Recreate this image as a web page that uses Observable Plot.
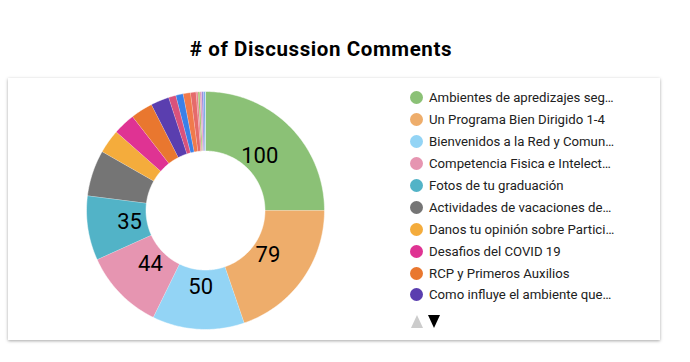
<!DOCTYPE html>
<html>
<head>
<meta charset="utf-8">
<script src="https://cdn.jsdelivr.net/npm/d3@7"></script>
<script src="https://cdn.jsdelivr.net/npm/@observablehq/plot@0.6"></script>
<style>
  html, body { margin: 0; padding: 0; background: #fff; }
  body { width: 690px; height: 362px; position: relative; overflow: hidden; font-family: Roboto, sans-serif; }
  #title { position: absolute; left: 0; width: 642px; top: 37px; text-align: center; font-weight: 700; font-size: 20.5px; color: #000; letter-spacing: 0.6px; }
  #card { position: absolute; left: 8px; top: 78px; width: 652px; height: 262px; background: #fff; box-shadow: 0 1px 3px rgba(0,0,0,0.35); }
  #chart { position: absolute; left: 0; top: 0; }
  #legend { position: absolute; left: 402px; top: 9px; }
  .item { height: 21.9px; display: flex; align-items: center; font-size: 13.2px; color: #212121; white-space: nowrap; }
  .dot { width: 13px; height: 13px; border-radius: 50%; margin-right: 6px; flex: none; }
  #arrows { position: absolute; left: 403px; top: 237px; display: flex; }
  .up { width: 0; height: 0; border-left: 6.5px solid transparent; border-right: 6.5px solid transparent; border-bottom: 13px solid #cccccc; margin-right: 5px; }
  .down { width: 0; height: 0; border-left: 6.5px solid transparent; border-right: 6.5px solid transparent; border-top: 13px solid #000; }
</style>
</head>
<body>
<div id="title"># of Discussion Comments</div>
<div id="card">
  <div id="chart"></div>
  <div id="legend"></div>
  <div id="arrows"><div class="up"></div><div class="down"></div></div>
</div>
<script>
// ---- data ----
const names = [
  "Ambientes de apredizajes seg…",
  "Un Programa Bien Dirigido 1-4",
  "Bienvenidos a la Red y Comun…",
  "Competencia Fisica e Intelect…",
  "Fotos de tu graduación",
  "Actividades de vacaciones de…",
  "Danos tu opinión sobre Partici…",
  "Desafios del COVID 19",
  "RCP y Primeros Auxilios",
  "Como influye el ambiente que…",
  "Tema 11", "Tema 12", "Tema 13", "Tema 14",
  "Tema 15", "Tema 16", "Tema 17", "Tema 18", "Tema 19"
];
const values = [100, 79, 50, 44, 35, 25, 13, 12, 12, 10, 4, 4, 4, 3, 1, 1, 1, 1, 1];
const colors = [
  "#8bc176", "#eead6b", "#93d4f5", "#e695b1", "#52b3c7",
  "#757575", "#f4ac3c", "#df3393", "#e9772f", "#5a3eaf",
  "#d9527c", "#3a80e8", "#f07a4c", "#e56b6b",
  "#e8818f", "#a3c46e", "#e4a0c0", "#9b8fe0", "#7eb3e8"
];
const legendCount = 10;
const labelMin = 35;

// ---- geometry (built from the values) ----
const innerR = 0.5;
const labelR = 0.645;
const arcs = d3.pie().sort(null).value(d => d)(values);
const pts = [];
arcs.forEach((a, i) => {
  const n = Math.max(2, Math.ceil((a.endAngle - a.startAngle) / (Math.PI / 180)));
  for (let k = 0; k <= n; k++) {
    const t = a.startAngle + (a.endAngle - a.startAngle) * k / n;
    pts.push({name: names[i], x: Math.sin(t), y: Math.cos(t)});
  }
  for (let k = n; k >= 0; k--) {
    const t = a.startAngle + (a.endAngle - a.startAngle) * k / n;
    pts.push({name: names[i], x: innerR * Math.sin(t), y: innerR * Math.cos(t)});
  }
});
const labels = arcs.filter(a => a.value >= labelMin).map(a => {
  const m = (a.startAngle + a.endAngle) / 2;
  return {x: labelR * Math.sin(m), y: labelR * Math.cos(m), text: String(a.value)};
});

const cx = 197, cy = 132, R = 119;
const chart = Plot.plot({
  width: 652,
  height: 262,
  margin: 0,
  style: {fontFamily: "Roboto, sans-serif", background: "transparent"},
  x: {domain: [-1, 1], range: [cx - R, cx + R], axis: null},
  y: {domain: [-1, 1], range: [cy + R, cy - R], axis: null},
  color: {domain: names, range: colors},
  marks: [
    Plot.line(pts, {x: "x", y: "y", z: "name", fill: "name", stroke: "white", strokeWidth: 0.5, curve: "linear"}),
    Plot.text(labels, {x: "x", y: "y", text: "text", fontSize: 22, fill: "#000"})
  ]
});
document.getElementById("chart").appendChild(chart);

const legend = document.getElementById("legend");
names.slice(0, legendCount).forEach((n, i) => {
  const row = document.createElement("div");
  row.className = "item";
  const dot = document.createElement("span");
  dot.className = "dot";
  dot.style.background = colors[i];
  const txt = document.createElement("span");
  txt.textContent = n;
  row.appendChild(dot);
  row.appendChild(txt);
  legend.appendChild(row);
});
</script>
</body>
</html>
